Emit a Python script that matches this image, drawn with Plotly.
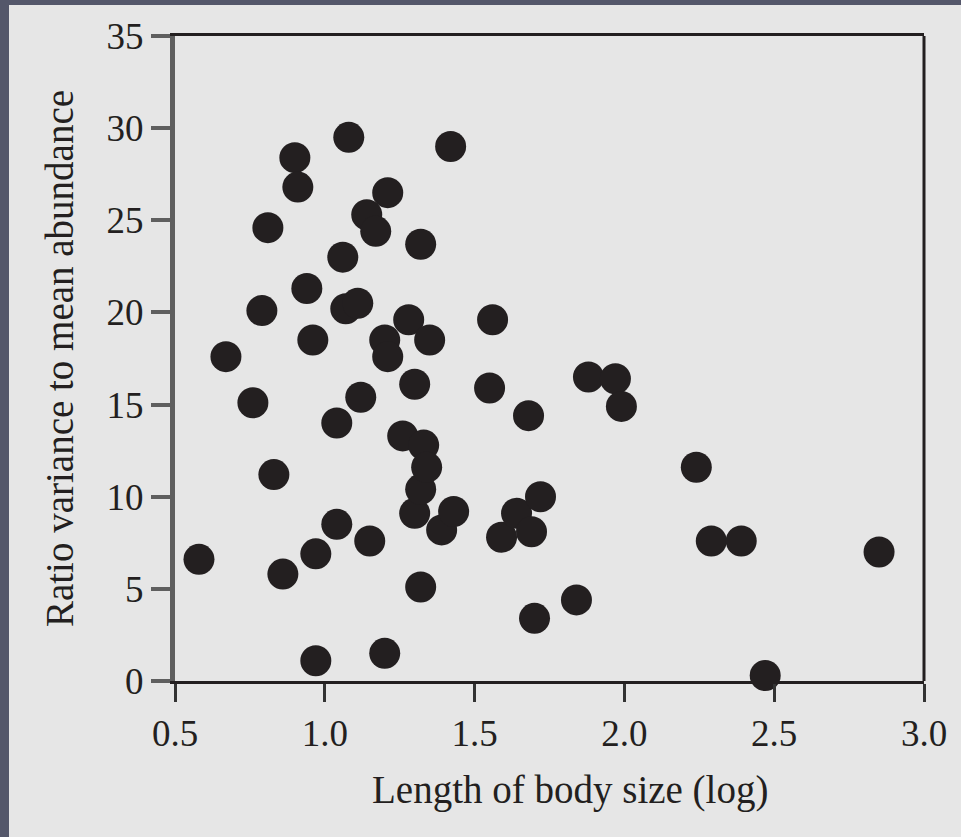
import plotly.graph_objects as go

# Data
body_size_log = [0.58, 0.67, 0.76, 0.79, 0.81, 0.83, 0.86, 0.90, 0.91, 0.94,
                 0.96, 0.97, 0.97, 1.04, 1.04, 1.06, 1.07, 1.08, 1.11, 1.12,
                 1.14, 1.15, 1.17, 1.21, 1.20, 1.21, 1.20, 1.26, 1.28, 1.30,
                 1.30, 1.32, 1.32, 1.32, 1.33, 1.34, 1.35, 1.39, 1.43, 1.42,
                 1.55, 1.56, 1.59, 1.64, 1.68, 1.69, 1.70, 1.72, 1.84,
                 1.88, 1.97, 1.99, 2.24, 2.29, 2.39, 2.47, 2.85]
ratio_var_mean = [6.6, 17.6, 15.1, 20.1, 24.6, 11.2, 5.8, 28.4, 26.8, 21.3,
                  18.5, 6.9, 1.1, 14.0, 8.5, 23.0, 20.2, 29.5, 20.5, 15.4,
                  25.3, 7.6, 24.4, 26.5, 18.5, 17.6, 1.5, 13.3, 19.6, 16.1,
                  9.1, 10.4, 23.7, 5.1, 12.8, 11.6, 18.5, 8.2, 9.2, 29.0,
                  15.9, 19.6, 7.8, 9.1, 14.4, 8.1, 3.4, 10.0, 4.4,
                  16.5, 16.4, 14.9, 11.6, 7.6, 7.6, 0.3, 7.0]

x_ticks = [0.5, 1.0, 1.5, 2.0, 2.5, 3.0]
x_tick_labels = ["0.5", "1.0", "1.5", "2.0", "2.5", "3.0"]
y_ticks = [0, 5, 10, 15, 20, 25, 30, 35]
y_tick_labels = ["0", "5", "10", "15", "20", "25", "30", "35"]

x_title = "Length of body size (log)"
y_title = "Ratio variance to mean abundance"

INK = "#231f20"
GREY = "#5f5f5f"
BG = "#e6e6e6"
BORDER = "#54576a"
FONT = "Liberation Serif"

fig = go.Figure()
fig.add_trace(go.Scatter(
    x=body_size_log, y=ratio_var_mean, mode="markers",
    marker=dict(size=31, color=INK, line=dict(width=0)),
    cliponaxis=False, showlegend=False, hoverinfo="x+y",
))

W, H = 961, 837
L, R, T, B = 175, 37, 36, 156
pw, ph = W - L - R, H - T - B

def px_x(p):
    return (p - L) / pw

def px_y(p):
    return (H - B - p) / ph

fig.update_layout(
    width=W, height=H,
    margin=dict(l=L, r=R, t=T, b=B, pad=0),
    paper_bgcolor=BG, plot_bgcolor=BG,
    font=dict(family=FONT, color=INK, size=37),
    xaxis=dict(
        range=[0.5, 3.0], tickmode="array", tickvals=x_ticks, ticktext=x_tick_labels,
        ticks="outside", ticklen=18, tickwidth=3, tickcolor="#333333",
        showline=True, linecolor=INK, linewidth=3, mirror=True,
        showgrid=False, zeroline=False,
        tickfont=dict(family=FONT, size=37, color=INK),
    ),
    yaxis=dict(
        range=[0, 35], tickmode="array", tickvals=y_ticks, ticktext=y_tick_labels,
        ticks="outside", ticklen=19, tickwidth=4, tickcolor=GREY,
        showline=True, linecolor=GREY, linewidth=5,
        showgrid=False, zeroline=False,
        tickfont=dict(family=FONT, size=37, color=INK),
        title=dict(text=y_title, font=dict(family=FONT, size=39, color=INK), standoff=22),
    ),
    shapes=[
        # right frame line
        dict(type="line", xref="paper", yref="paper", x0=1, x1=1, y0=0, y1=1,
             line=dict(color=INK, width=3)),
        # dark border strips of the slide
        dict(type="rect", xref="paper", yref="paper", layer="below",
             x0=px_x(0), x1=px_x(9), y0=px_y(H), y1=px_y(0),
             fillcolor=BORDER, line=dict(width=0)),
        dict(type="rect", xref="paper", yref="paper", layer="below",
             x0=px_x(0), x1=px_x(W), y0=px_y(5), y1=px_y(0),
             fillcolor=BORDER, line=dict(width=0)),
    ],
    annotations=[
        dict(text=x_title, xref="paper", yref="paper", x=px_x(570), y=px_y(790),
             xanchor="center", yanchor="middle", showarrow=False,
             font=dict(family=FONT, size=39, color=INK)),
    ],
)

fig.write_html("out.html")
